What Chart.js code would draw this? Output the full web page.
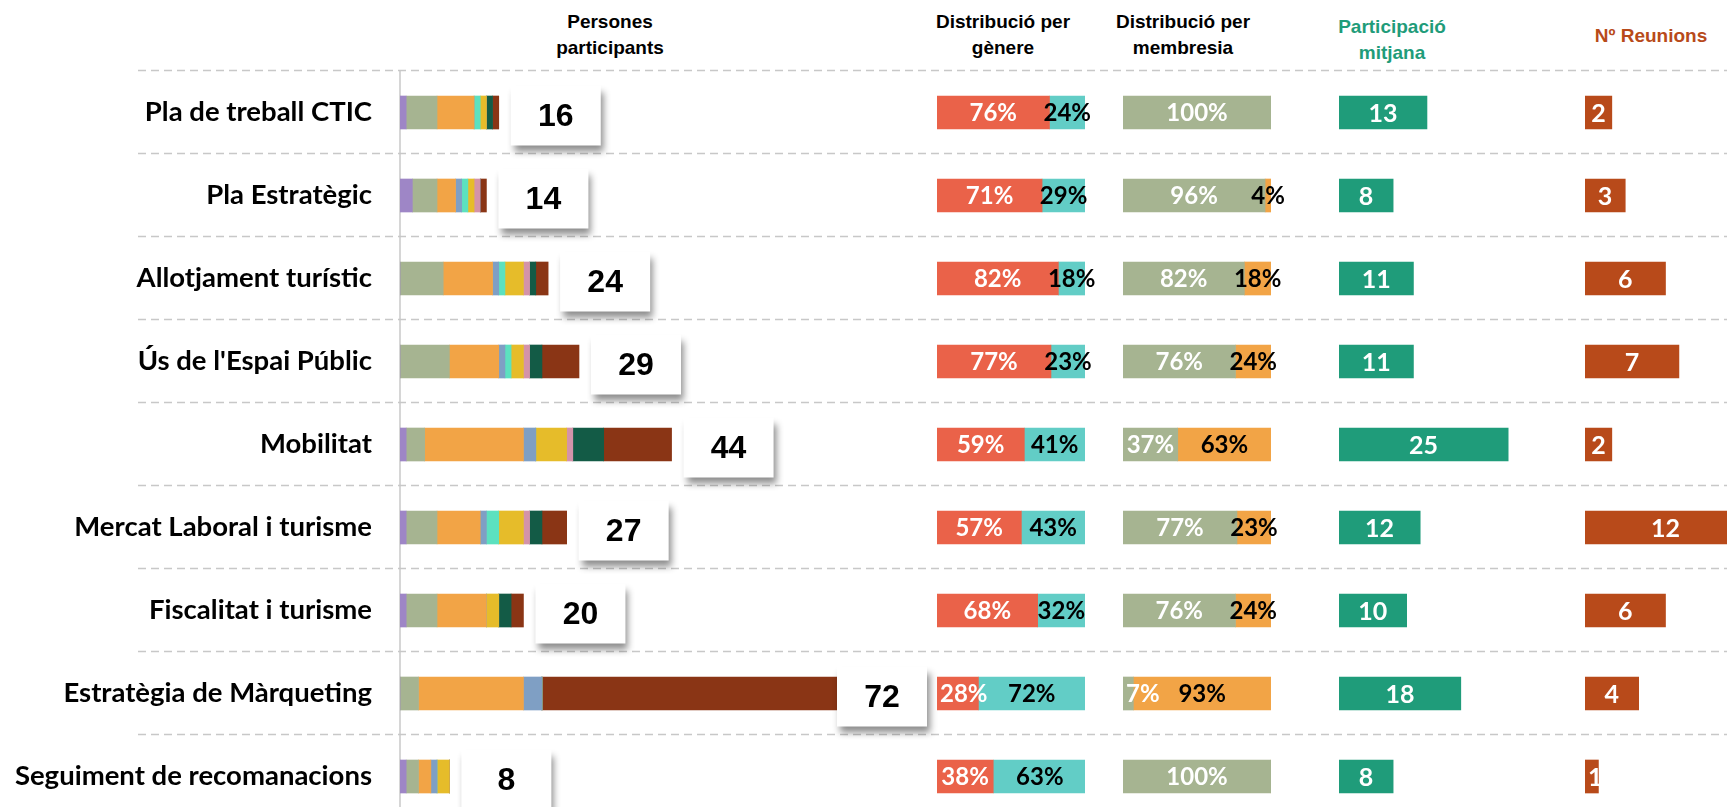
<!DOCTYPE html>
<html>
<head>
<meta charset="utf-8">
<script src="https://cdn.jsdelivr.net/npm/chart.js@4.4.0/dist/chart.umd.min.js"></script>
<style>
  body {
    margin: 0;
    width: 1727px;
    height: 807px;
    overflow: hidden;
    background: #fff;
    position: relative;
    font-family: "Liberation Sans", Arial, sans-serif;
  }
  .head {
    position: absolute;
    font-weight: bold;
    font-size: 19px;
    line-height: 26px;
    text-align: center;
    white-space: nowrap;
    transform: translateX(-50%);
    color: #000;
  }
  canvas { position: absolute; top: 0; }
</style>
</head>
<body>
<div class="head" style="left:610px;top:9px">Persones<br>participants</div>
<div class="head" style="left:1003px;top:9px">Distribució per<br>gènere</div>
<div class="head" style="left:1183px;top:9px">Distribució per<br>membresia</div>
<div class="head" style="left:1392px;top:14px;color:#1f9c7a">Participació<br>mitjana</div>
<div class="head" style="left:1651px;top:23px;color:#b84a1a">Nº Reunions</div>

<canvas id="persons" width="1727" height="818" style="left:0"></canvas>
<canvas id="gender" width="178" height="818" style="left:937px"></canvas>
<canvas id="members" width="178" height="818" style="left:1123px"></canvas>
<canvas id="average" width="203" height="818" style="left:1339px"></canvas>
<canvas id="meetings" width="161" height="818" style="left:1585px"></canvas>

<script>
const rowNames = [
  "Pla de treball CTIC",
  "Pla Estratègic",
  "Allotjament turístic",
  "Ús de l'Espai Públic",
  "Mobilitat",
  "Mercat Laboral i turisme",
  "Fiscalitat i turisme",
  "Estratègia de Màrqueting",
  "Seguiment de recomanacions",
];

// people per group, one array per colour of the stacked bar
const segPurple = [1, 2, 0, 0, 1, 1, 1, 0, 1];
const segSage = [5, 4, 7, 8, 3, 5, 5, 3, 2];
const segOrange = [6, 3, 8, 8, 16, 7, 8, 17, 2];
const segBlue = [0, 1, 1, 1, 2, 1, 0, 3, 1];
const segAqua = [1, 1, 1, 1, 0, 2, 0, 0, 0];
const segYellow = [1, 1, 3, 2, 5, 4, 2, 0, 2];
const segPink = [0, 1, 1, 1, 1, 1, 0, 0, 0];
const segDarkGreen = [1, 0, 1, 2, 5, 2, 2, 0, 0];
const segBrown = [1, 1, 2, 6, 11, 4, 2, 49, 0];

const genderA = [76, 71, 82, 77, 59, 57, 68, 28, 38];
const genderB = [24, 29, 18, 23, 41, 43, 32, 72, 63];

const memberA = [100, 96, 82, 76, 37, 77, 76, 7, 100];
const memberB = [0, 4, 18, 24, 63, 23, 24, 93, 0];

const avgParticipation = [13, 8, 11, 11, 25, 12, 10, 18, 8];
const meetingCount = [2, 3, 6, 7, 2, 12, 6, 4, 1];

const segments = [
  { data: segPurple, color: "#9e86c6" },
  { data: segSage, color: "#a6b491" },
  { data: segOrange, color: "#f2a446" },
  { data: segBlue, color: "#7f9fc4" },
  { data: segAqua, color: "#5ce1bf" },
  { data: segYellow, color: "#e6bc2a" },
  { data: segPink, color: "#d493a9" },
  { data: segDarkGreen, color: "#135b46" },
  { data: segBrown, color: "#8a3515" },
];

const TOP = 71;
const BAR = 33;

// dashed separators between rows, across the whole page
const rowLines = {
  id: "rowLines",
  beforeDatasetsDraw(chart) {
    const { ctx } = chart;
    const y = chart.scales.y;
    ctx.save();
    ctx.strokeStyle = "#c8c8c8";
    ctx.lineWidth = 1.5;
    ctx.setLineDash([8, 5]);
    for (let i = 0; i <= rowNames.length; i++) {
      const py = Math.round(y.getPixelForValue(i - 0.5) - 1) + 0.5;
      ctx.beginPath();
      ctx.moveTo(138, py);
      ctx.lineTo(chart.width, py);
      ctx.stroke();
    }
    ctx.restore();
  },
};

// white boxes with the total of each stacked bar
const totalBoxes = {
  id: "totalBoxes",
  afterDatasetsDraw(chart, args, opts) {
    const { ctx } = chart;
    const { x, y } = chart.scales;
    ctx.save();
    rowNames.forEach((name, i) => {
      const total = chart.data.datasets.reduce((acc, ds) => acc + ds.data[i], 0);
      let left = x.getPixelForValue(total) + 12;
      left = Math.min(left, opts.maxRight - 90);
      const cy = y.getPixelForValue(i) + 3;
      ctx.shadowColor = "rgba(0,0,0,0.45)";
      ctx.shadowBlur = 7;
      ctx.shadowOffsetX = 3;
      ctx.shadowOffsetY = 6;
      ctx.fillStyle = "#fff";
      ctx.fillRect(left, cy - 30, 90, 60);
      ctx.shadowColor = "transparent";
      ctx.fillStyle = "#000";
      ctx.font = 'bold 32px "Liberation Sans"';
      ctx.textAlign = "center";
      ctx.textBaseline = "middle";
      ctx.fillText(String(total), left + 45, cy + 2);
    });
    ctx.restore();
  },
};

// value text inside each bar segment
const barLabels = {
  id: "barLabels",
  afterDatasetsDraw(chart, args, opts) {
    const { ctx } = chart;
    ctx.save();
    ctx.font = "bold " + opts.size + "px Lato";
    ctx.textAlign = "center";
    ctx.textBaseline = "middle";
    chart.data.datasets.forEach((ds, d) => {
      chart.getDatasetMeta(d).data.forEach((bar, i) => {
        const v = ds.data[i];
        if (!v) return;
        const text = v + opts.suffix;
        const w = ctx.measureText(text).width;
        let cx = (bar.x + bar.base) / 2;
        cx = Math.max(cx, chart.chartArea.left + w / 2 + 3);
        ctx.fillStyle = ds.labelColor;
        ctx.fillText(text, cx, bar.y + 1);
      });
    });
    ctx.restore();
  },
};

new Chart(document.getElementById("persons"), {
  type: "bar",
  data: {
    labels: rowNames,
    datasets: segments.map((s) => ({
      data: s.data,
      backgroundColor: s.color,
      borderWidth: 0,
      barThickness: BAR,
    })),
  },
  options: {
    indexAxis: "y",
    responsive: false,
    animation: false,
    layout: { padding: { top: TOP, right: 0, bottom: 0, left: 0 } },
    plugins: {
      legend: { display: false },
      tooltip: { enabled: false },
      totalBoxes: { maxRight: 927 },
    },
    scales: {
      x: { display: false, stacked: true, min: 0, max: 215 },
      y: {
        stacked: true,
        grid: { display: false, drawTicks: false },
        border: { display: true, color: "#d6d6d6", width: 2 },
        ticks: {
          color: "#000",
          padding: 28,
          font: { family: "Lato", weight: "bold", size: 27.5 },
        },
        afterFit(scale) {
          // fixed label column, and no extra room above/below the rows
          scale.width = 400;
          scale.paddingTop = 0;
          scale.paddingBottom = 0;
        },
      },
    },
  },
  plugins: [rowLines, totalBoxes],
});

function columnChart(id, series, max, labelSize, suffix, padRight) {
  return new Chart(document.getElementById(id), {
    type: "bar",
    data: {
      labels: rowNames,
      datasets: series.map((s) => ({
        data: s.data,
        backgroundColor: s.color,
        labelColor: s.text,
        borderWidth: 0,
        barThickness: BAR,
      })),
    },
    options: {
      indexAxis: "y",
      responsive: false,
      animation: false,
      layout: { padding: { top: TOP, right: padRight, bottom: 0, left: 0 } },
      plugins: {
        legend: { display: false },
        tooltip: { enabled: false },
        barLabels: { size: labelSize, suffix: suffix },
      },
      scales: {
        x: { display: false, stacked: true, min: 0, max: max },
        y: { display: false, stacked: true },
      },
    },
    plugins: [barLabels],
  });
}

columnChart("gender", [
  { data: genderA, color: "#ea6249", text: "#fff" },
  { data: genderB, color: "#62cdc6", text: "#000" },
], 100, 24, "%", 30);

columnChart("members", [
  { data: memberA, color: "#a6b491", text: "#fff" },
  { data: memberB, color: "#f2a446", text: "#000" },
], 100, 24, "%", 30);

columnChart("average", [
  { data: avgParticipation, color: "#1f9c7a", text: "#fff" },
], 30, 25, "", 0);

columnChart("meetings", [
  { data: meetingCount, color: "#b84a1a", text: "#fff" },
], 12, 25, "", 0);
</script>
</body>
</html>
